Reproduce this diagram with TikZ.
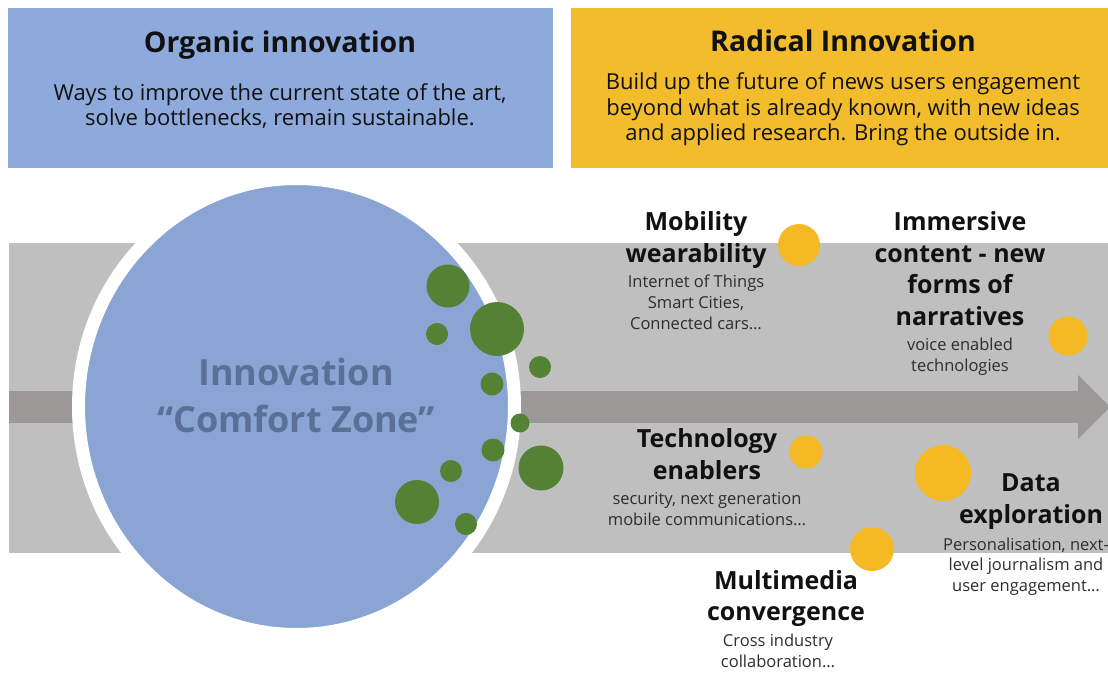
\documentclass[tikz,border=0pt]{standalone}
\usepackage{fontspec}
\setmainfont{Open Sans}
\usetikzlibrary{shapes.geometric}
\definecolor{orgblue}{HTML}{8EA9DB}
\definecolor{radyellow}{HTML}{F3BC2C}
\definecolor{bandgray}{HTML}{BFBFBF}
\definecolor{shaftgray}{HTML}{9B9897}
\definecolor{zoneblue}{HTML}{8AA5D3}
\definecolor{zonetext}{HTML}{5B7096}
\definecolor{dotgreen}{HTML}{538235}
\definecolor{dotyellow}{HTML}{F5B923}
\definecolor{inktext}{HTML}{111111}
\definecolor{desctext}{HTML}{2E2E2E}
\begin{document}
\begin{tikzpicture}[x=1pt,y=-1pt,
  boxtitle/.style={font=\bfseries\fontsize{28.5pt}{34pt}\selectfont, text=inktext, inner sep=0pt, anchor=base},
  boxbody/.style={font=\fontsize{22pt}{25.5pt}\selectfont, text=inktext, align=center, inner sep=0pt, anchor=north},
  headtxt/.style={font=\bfseries\fontsize{25pt}{31.5pt}\selectfont, align=center, text=inktext, inner sep=0pt, anchor=north},
  desctxt/.style={font=\fontsize{16.5pt}{20.8pt}\selectfont, align=center, text=desctext, inner sep=0pt, anchor=north},
  gdot/.style={circle, fill=dotgreen, inner sep=0pt},
  ydot/.style={circle, fill=dotyellow, inner sep=0pt}]
\useasboundingbox (0,0) rectangle (1108,672);
\fill[white] (0,0) rectangle (1108,672);
% top boxes
\fill[orgblue] (8,8) rectangle (553,168);
\fill[radyellow] (571,8) rectangle (1108,168);
\node (orgtitle) [boxtitle] at (280,52) {Organic innovation};
\node (orgbody) [boxbody] at (280,82.2) {\strut Ways to improve the current state of the art,\\solve bottlenecks, remain sustainable.};
\node (radtitle) [boxtitle] at (843,51.5) {Radical Innovation};
\node (radbody) [boxbody] at (843,71.8) {\strut Build up the future of news users engagement\\beyond what is already known, with new ideas\\and applied research. Bring the outside in.};
% band and arrow
\fill[bandgray] (9,243) rectangle (1108,553);
\fill[shaftgray] (9,391) rectangle (1079,423);
\fill[shaftgray] (1078,375) -- (1110,407) -- (1078,439) -- cycle;
% comfort zone
\node (zone) [ellipse, fill=zoneblue, draw=white, line width=13pt, inner sep=0pt, minimum width=436pt, minimum height=456pt] at (296.5,406.5) {};
\node (zonelabel) [font=\bfseries\fontsize{36pt}{47pt}\selectfont, text=zonetext, align=center, inner sep=0pt, anchor=north] at (296,352.1) {\strut Innovation\\“Comfort Zone”};
% green dots
\node (g1) [gdot, minimum size=43pt] at (448,286) {};
\node (g2) [gdot, minimum size=54pt] at (497,329) {};
\node (g3) [gdot, minimum size=22pt] at (437,334) {};
\node (g4) [gdot, minimum size=22pt] at (540,367) {};
\node (g5) [gdot, minimum size=23pt] at (492,384) {};
\node (g6) [gdot, minimum size=19pt] at (520,423) {};
\node (g7) [gdot, minimum size=23pt] at (493,450) {};
\node (g8) [gdot, minimum size=45pt] at (541,468) {};
\node (g9) [gdot, minimum size=22pt] at (451,471) {};
\node (g10) [gdot, minimum size=44pt] at (417,502) {};
\node (g11) [gdot, minimum size=22pt] at (466,524) {};
% yellow dots
\node (ymob) [ydot, minimum size=42pt] at (799,245) {};
\node (yimm) [ydot, minimum size=39pt] at (1068,336) {};
\node (ytech) [ydot, minimum size=33pt] at (806,452) {};
\node (ydata) [ydot, minimum size=56pt] at (943,473) {};
\node (ymulti) [ydot, minimum size=44pt] at (872,549) {};
% labels
\node (mobhead) [headtxt] at (696,208.3) {\strut Mobility\\wearability};
\node (mobdesc) [desctxt] at (696,273) {\strut Internet of Things\\Smart Cities,\\Connected cars…};
\node (immhead) [headtxt] at (960,208.3) {\strut Immersive\\content - new\\forms of\\narratives};
\node (immdesc) [desctxt] at (960,335.6) {\strut voice enabled\\technologies};
\node (techhead) [headtxt] at (707,425.6) {\strut Technology\\enablers};
\node (techdesc) [desctxt] at (707,489.6) {\strut security, next generation\\mobile communications…};
\node (datahead) [headtxt] at (1031,469.6) {\strut Data\\exploration};
\node (datadesc) [desctxt] at (1026,535.3) {\strut Personalisation, next-\\level journalism and\\user engagement…};
\node (multihead) [headtxt] at (786,567) {\strut Multimedia\\convergence};
\node (multidesc) [desctxt] at (778,632) {\strut Cross industry\\collaboration…};
\end{tikzpicture}
\end{document}
